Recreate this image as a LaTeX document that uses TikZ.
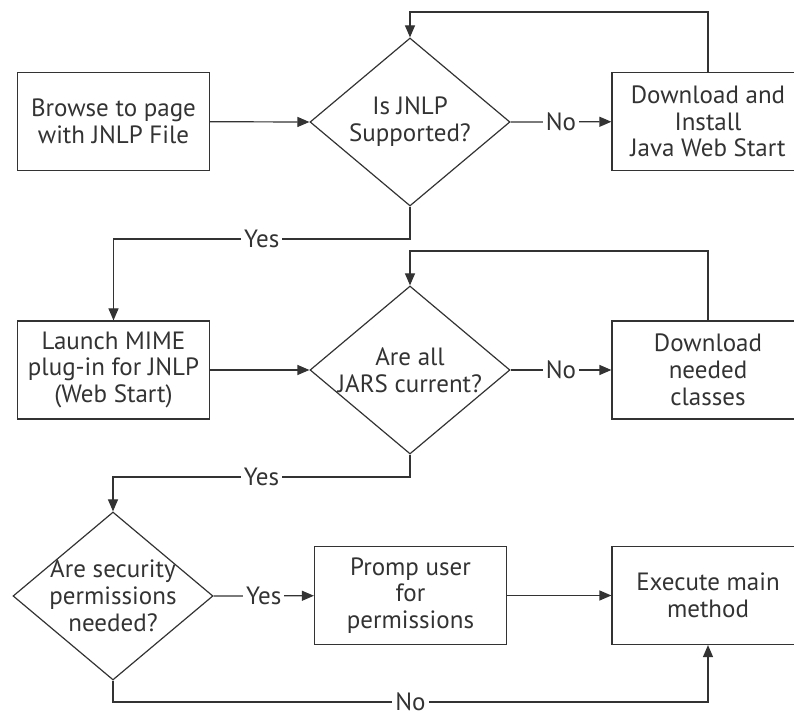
\documentclass[tikz,border=0pt]{standalone}
\usepackage{fontspec}
\setmainfont{PT Sans}
\usetikzlibrary{shapes.geometric,arrows.meta}

\tikzset{
  every node/.style={font=\fontsize{12.5}{13.4}\selectfont, text=black!80},
  procbox/.style={draw=black!80, line width=0.6pt, minimum width=96pt,
    minimum height=49pt, inner sep=0pt, align=center},
  decision/.style={draw=black!80, line width=0.6pt, diamond, inner sep=0pt,
    minimum width=100pt, minimum height=84pt},
  flow/.style={draw=black!80, line width=0.6pt,
    -{Triangle[length=6pt,width=5pt]}},
  answer/.style={fill=white, inner xsep=1.5pt, inner ysep=0.3pt}
}

\begin{document}
\begin{tikzpicture}[x=0.5pt,y=-0.5pt]
  \clip (0,0) rectangle (794,715);

  % first row
  \node[procbox] (browse) at (113.5,121.5) {Browse to page\\with JNLP File};
  \node[decision, label={[align=center]center:Is JNLP\\Supported?}] (jnlp) at (410,122) {};
  \node[procbox] (install) at (708,121.5) {Download and\\Install\\Java Web Start};

  % second row
  \node[procbox] (launch) at (113.5,370) {Launch MIME\\plug-in for JNLP\\(Web Start)};
  \node[decision, label={[align=center]center:Are all\\JARS current?}] (jars) at (410,370) {};
  \node[procbox] (classes) at (708,370) {Download\\needed\\classes};

  % third row
  \node[decision, label={[align=center]center:Are security\\permissions\\needed?}] (security) at (113,596) {};
  \node[procbox] (prompt) at (410.5,595.5) {Promp user\\for\\permissions};
  \node[procbox] (execute) at (708,595.5) {Execute main\\method};

  \coordinate (loop1) at (410,12);
  \coordinate (loop2) at (410,251);
  \coordinate (down1) at (410,239);
  \coordinate (down2) at (410,477);
  \coordinate (back) at (708,702);

  \draw[flow] (browse) -- (jnlp.west);
  \draw[flow] (jnlp.east) -- node[answer] {No} (install);
  \draw[flow] (install.north) |- (loop1) -- (jnlp.north);
  \draw[flow] (jnlp.south) -- (down1) -| node[answer, pos=0.25] {Yes} (launch.north);

  \draw[flow] (launch) -- (jars.west);
  \draw[flow] (jars.east) -- node[answer] {No} (classes);
  \draw[flow] (classes.north) |- (loop2) -- (jars.north);
  \draw[flow] (jars.south) -- (down2) -| node[answer, pos=0.25] {Yes} (security.north);

  \draw[flow] (security.east) -- node[answer] {Yes} (prompt);
  \draw[flow] (prompt) -- (execute);
  \draw[flow] (security.south) |- node[answer, pos=0.75] {No} (back) -- (execute.south);
\end{tikzpicture}
\end{document}
